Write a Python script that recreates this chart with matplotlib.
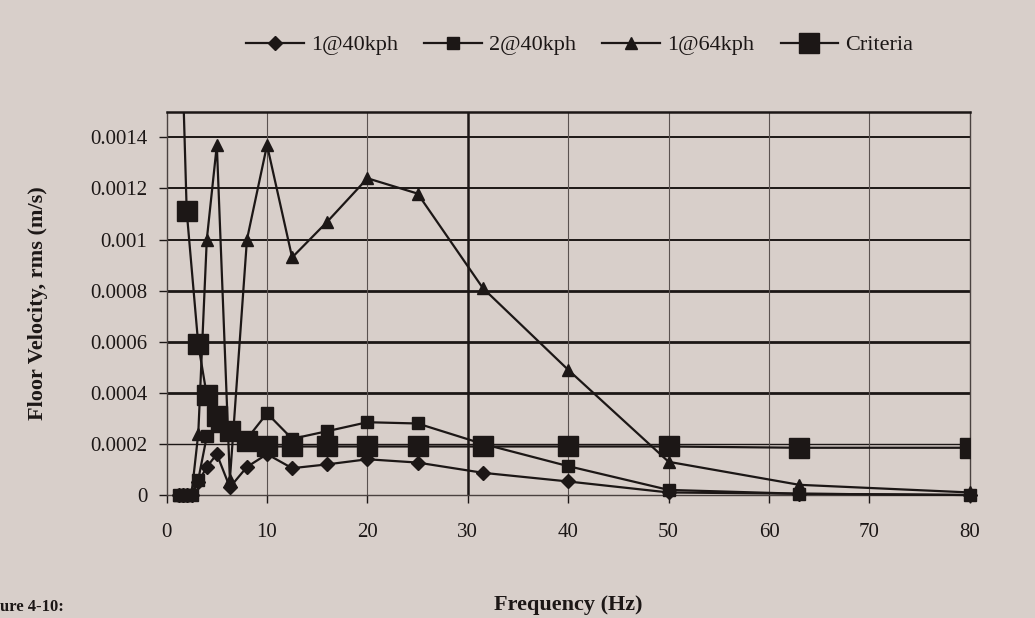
import numpy as np
import matplotlib.pyplot as plt
import matplotlib

matplotlib.rcParams.update({
    "font.family": "serif",
    "font.serif": ["Liberation Serif", "DejaVu Serif"],
    "font.size": 14,
})

# one-third octave band centre frequencies (Hz)
FREQ = [1.25, 1.6, 2, 2.5, 3.15, 4, 5, 6.3, 8, 10, 12.5, 16, 20, 25, 31.5, 40, 50, 63, 80]

# floor velocity, rms (m/s)
V1_40 = [0, 0, 0, 0, 0.00005, 0.00011, 0.00016, 0.00003, 0.00011, 0.00016, 0.000105,
         0.00012, 0.00014, 0.000127, 0.000087, 0.000053, 0.00001, 0.000005, 0.0]
V2_40 = [0, 0, 0, 0, 0.00006, 0.00023, 0.00027, 0.00024, 0.00022, 0.00032, 0.00022,
         0.00025, 0.000285, 0.00028, 0.0002, 0.000113, 0.00002, 0.000005, 0.0]
V1_64 = [0, 0, 0, 0.00001, 0.00024, 0.001, 0.00137, 0.00006, 0.001, 0.00137, 0.00093,
         0.00107, 0.00124, 0.00118, 0.00081, 0.00049, 0.00013, 0.00004, 0.00001]

CRIT_FREQ = [1.6, 2, 3.15, 4, 5, 6.3, 8, 10, 12.5, 16, 20, 25, 31.5, 40, 50, 63, 80]
CRIT = [0.00165, 0.00111, 0.00059, 0.00039, 0.00031, 0.00025, 0.00021, 0.00019, 0.00019,
        0.00019, 0.00019, 0.00019, 0.00019, 0.00019, 0.00019, 0.000185, 0.000185]

LABELS = ["1@40kph", "2@40kph", "1@64kph", "Criteria"]
YTICKS = [0, 0.0002, 0.0004, 0.0006, 0.0008, 0.001, 0.0012, 0.0014]
YTICKLABELS = ["0", "0.0002", "0.0004", "0.0006", "0.0008", "0.001", "0.0012", "0.0014"]

BG = "#d8cfca"
INK = "#1c1716"

fig = plt.figure(figsize=(10.35, 6.18), dpi=100, facecolor=BG)
ax = fig.add_axes([0.161, 0.199, 0.776, 0.62], facecolor=BG)

# gridlines (the print has some heavier than others)
grid_w = {0.0002: 1.0, 0.0004: 2.0, 0.0006: 2.0, 0.0008: 2.0, 0.001: 1.4, 0.0012: 1.4, 0.0014: 1.4}
for yv, w in grid_w.items():
    ax.axhline(yv, color=INK, lw=w, zorder=1)
for xv in [10, 20, 40, 50, 60, 70]:
    ax.axvline(xv, color="#5a5250", lw=0.8, zorder=1)
ax.axvline(30, color=INK, lw=1.8, zorder=1)

ax.plot(FREQ, V1_40, color=INK, lw=1.6, marker="D", ms=7, mfc=INK, mec=INK,
        label=LABELS[0], zorder=4, clip_on=False)
ax.plot(FREQ, V2_40, color=INK, lw=1.6, marker="s", ms=8, mfc=INK, mec=INK,
        label=LABELS[1], zorder=4, clip_on=False)
ax.plot(FREQ, V1_64, color=INK, lw=1.6, marker="^", ms=9, mfc=INK, mec=INK,
        label=LABELS[2], zorder=4, clip_on=False)
ax.plot(CRIT_FREQ, CRIT, color=INK, lw=1.6, marker="s", ms=14, mfc=INK, mec=INK,
        label=LABELS[3], zorder=5)

ax.set_xlim(0, 80)
ax.set_ylim(0, 0.0015)
ax.set_xticks(range(0, 81, 10))
ax.set_yticks(YTICKS)
ax.set_yticklabels(YTICKLABELS)
ax.tick_params(axis="both", colors=INK, labelsize=15, length=6, width=1.0, pad=8)
ax.tick_params(axis="x", pad=14)

for side in ["left", "bottom", "right"]:
    ax.spines[side].set_color("#4a4240")
    ax.spines[side].set_linewidth(1.0)
ax.spines["top"].set_color(INK)
ax.spines["top"].set_linewidth(1.8)

ax.set_xlabel("Frequency (Hz)", fontsize=16, fontweight="bold", color=INK, labelpad=38)
ax.set_ylabel("Floor Velocity, rms (m/s)", fontsize=16, fontweight="bold", color=INK, labelpad=30)

fig.legend(loc="center", bbox_to_anchor=(0.56, 0.927), ncol=4, frameon=False,
           fontsize=16, handlelength=2.6, handletextpad=0.3, columnspacing=1.2,
           labelcolor=INK)

fig.text(0.0, 0.018, "ure 4-10:", fontsize=12, fontweight="bold", color=INK, va="center")

fig.savefig("out.png", dpi=100, facecolor=BG)
